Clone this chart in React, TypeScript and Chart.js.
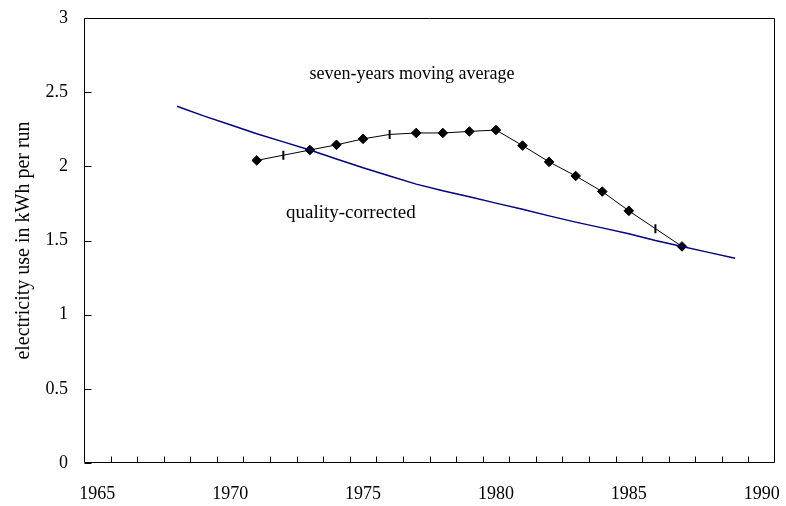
import React, { useEffect, useRef } from 'react';
import { Chart, registerables } from 'chart.js';

Chart.register(...registerables);

// Category axis (one category per year, labels centred, ticks between)
const years: string[] = [
  '1965', '1966', '1967', '1968', '1969', '1970', '1971', '1972', '1973',
  '1974', '1975', '1976', '1977', '1978', '1979', '1980', '1981', '1982',
  '1983', '1984', '1985', '1986', '1987', '1988', '1989', '1990',
];
const xTickLabels: string[] = ['1965', '1970', '1975', '1980', '1985', '1990'];

const yTickValues: number[] = [0, 0.5, 1, 1.5, 2, 2.5, 3];
const yTickLabels: string[] = ['0', '0.5', '1', '1.5', '2', '2.5', '3'];

// Seven-years moving average (black, 1971-1987)
const movingAvgYears: string[] = [
  '1971', '1972', '1973', '1974', '1975', '1976', '1977', '1978', '1979',
  '1980', '1981', '1982', '1983', '1984', '1985', '1986', '1987',
];
const movingAvgValues: number[] = [
  2.04, 2.075, 2.11, 2.145, 2.185, 2.215, 2.225, 2.225, 2.235,
  2.245, 2.14, 2.03, 1.935, 1.83, 1.70, 1.58, 1.46,
];
// 'd' = diamond marker, 't' = small vertical tick marker
const movingAvgMarkers: string[] = [
  'd', 't', 'd', 'd', 'd', 't', 'd', 'd', 'd',
  'd', 'd', 'd', 'd', 'd', 'd', 't', 'd',
];

// Quality-corrected (blue, 1968-1989)
const qualityYears: string[] = [
  '1968', '1969', '1970', '1971', '1972', '1973', '1974', '1975', '1976',
  '1977', '1978', '1979', '1980', '1981', '1982', '1983', '1984', '1985',
  '1986', '1987', '1988', '1989',
];
const qualityValues: number[] = [
  2.405, 2.34, 2.28, 2.22, 2.165, 2.11, 2.05, 1.99, 1.935,
  1.88, 1.835, 1.795, 1.752, 1.71, 1.666, 1.624, 1.585, 1.545,
  1.50, 1.46, 1.42, 1.38,
];

const yTitle = 'electricity use in kWh per run';
const annotations = [
  { text: 'seven-years moving average', year: 1976.84, value: 2.62, size: 18 },
  { text: 'quality-corrected', year: 1974.54, value: 1.687, size: 19 },
];

const FONT = "'Liberation Serif', 'Times New Roman', serif";

function alignToYears<T>(srcYears: string[], values: T[]): (T | null)[] {
  return years.map((y) => {
    const i = srcYears.indexOf(y);
    return i >= 0 ? values[i] : null;
  });
}

const markerPerYear = alignToYears(movingAvgYears, movingAvgMarkers);

const framePlugin = {
  id: 'frameTicksNotes',
  afterDraw(chart: any) {
    const { ctx, chartArea: a, scales } = chart;
    const x = scales.x;
    const y = scales.y;
    ctx.save();
    ctx.strokeStyle = '#000';
    ctx.lineWidth = 1;
    const L = Math.round(a.left) + 0.5;
    const R = Math.round(a.right) - 0.5;
    const T = Math.round(a.top) + 0.5;
    const B = Math.round(a.bottom) - 0.5;
    ctx.beginPath();
    ctx.rect(L, T, R - L, B - T);
    // y ticks (inside)
    yTickValues.forEach((v) => {
      const py = Math.round(y.getPixelForValue(v)) + 0.5;
      ctx.moveTo(L, py);
      ctx.lineTo(L + 7, py);
    });
    // x ticks between categories (inside)
    const step = x.getPixelForValue(1) - x.getPixelForValue(0);
    for (let i = 1; i < years.length; i++) {
      const px = Math.round(x.getPixelForValue(i) - step / 2) + 0.5;
      ctx.moveTo(px, B);
      ctx.lineTo(px, B - 6);
    }
    ctx.stroke();
    // annotations
    ctx.fillStyle = '#000';
    ctx.textAlign = 'center';
    ctx.textBaseline = 'middle';
    annotations.forEach((n) => {
      ctx.font = `${n.size}px ${FONT}`;
      const px = x.getPixelForValue(n.year - Number(years[0]));
      const py = y.getPixelForValue(n.value);
      ctx.fillText(n.text, px, py);
    });
    ctx.restore();
  },
};

function zeroPadding(s: any) {
  s.paddingLeft = 0;
  s.paddingRight = 0;
  s.paddingTop = 0;
  s.paddingBottom = 0;
}

export default function App() {
  const ref = useRef<HTMLCanvasElement | null>(null);
  useEffect(() => {
    if (!ref.current) return;
    const chart = new Chart(ref.current, {
      type: 'line',
      data: {
        labels: years,
        datasets: [
          {
            label: 'quality-corrected',
            data: alignToYears(qualityYears, qualityValues),
            borderColor: '#000080',
            borderWidth: 1.5,
            pointRadius: 0,
            tension: 0,
            fill: false,
          },
          {
            label: 'seven-years moving average',
            data: alignToYears(movingAvgYears, movingAvgValues),
            borderColor: '#000',
            borderWidth: 1,
            tension: 0,
            fill: false,
            pointStyle: markerPerYear.map((m) => (m === 't' ? 'line' : 'rectRot')) as any,
            pointRotation: markerPerYear.map((m) => (m === 't' ? 90 : 0)),
            pointRadius: markerPerYear.map((m) => (m === 't' ? 4.5 : 4.8)),
            pointBorderWidth: markerPerYear.map((m) => (m === 't' ? 2 : 1)),
            pointBackgroundColor: '#000',
            pointBorderColor: '#000',
          },
        ],
      },
      options: {
        animation: false,
        responsive: true,
        maintainAspectRatio: false,
        layout: { padding: { top: 18, right: 11, left: 0, bottom: 0 } },
        plugins: {
          legend: { display: false },
          tooltip: { enabled: false },
        },
        scales: {
          x: {
            type: 'category',
            offset: true,
            grid: { display: false, drawTicks: false, offset: true },
            border: { display: false },
            ticks: {
              autoSkip: false,
              maxRotation: 0,
              color: '#000',
              padding: 20,
              font: { family: FONT, size: 18 },
              callback: (_v: any, i: number) => (xTickLabels.includes(years[i]) ? years[i] : ''),
            },
            afterFit: (s: any) => {
              s.height = 43;
              zeroPadding(s);
            },
          },
          y: {
            min: 0,
            max: 3,
            grid: { display: false, drawTicks: false },
            border: { display: false },
            afterBuildTicks: (s: any) => {
              s.ticks = yTickValues.map((v) => ({ value: v }));
            },
            ticks: {
              color: '#000',
              padding: 16,
              font: { family: FONT, size: 18 },
              callback: (v: any) => {
                const i = yTickValues.indexOf(Number(v));
                return i >= 0 ? yTickLabels[i] : '';
              },
            },
            title: {
              display: true,
              text: yTitle,
              color: '#000',
              padding: { top: 12, bottom: 0 },
              font: { family: FONT, size: 20 },
            },
            afterFit: (s: any) => {
              s.width = 84;
              zeroPadding(s);
            },
          },
        },
      },
      plugins: [framePlugin],
    });
    return () => chart.destroy();
  }, []);

  return (
    <div style={{ position: 'fixed', left: 0, top: 0, width: 786, height: 506, background: '#fff' }}>
      <canvas ref={ref} />
    </div>
  );
}
